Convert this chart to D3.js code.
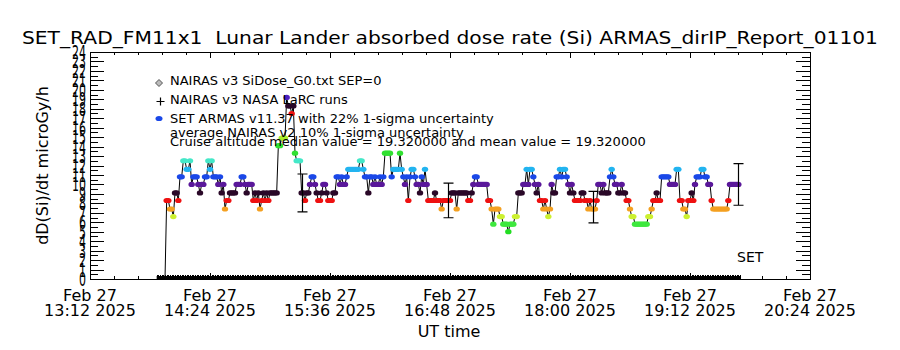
<!DOCTYPE html>
<html>
<head>
<meta charset="utf-8">
<script src="https://cdn.jsdelivr.net/npm/d3@7"></script>
<style>
body { margin: 0; background: #fff; }
text { font-family: "DejaVu Sans", sans-serif; fill: #000; white-space: pre; }
</style>
</head>
<body>
<div id="chart"></div>
<script>

// ---- data ----
var day = "2025-02-27";
var xTickLabels = ["13:12", "14:24", "15:36", "16:48", "18:00", "19:12", "20:24"];
var yTickLabels = [0, 1, 2, 3, 4, 5, 6, 7, 8, 9, 10, 11, 12, 13, 14, 15, 16, 17, 18, 19, 20, 21, 22, 23, 24];

// SET ARMAS dose rate, one sample per minute starting 13:57 UT
var armasStart = "13:57";
var armasDose = [
    0, 8.3, 8.3, 7.4, 7.4, 6.6, 9.1, 9.1, 8.3, 10.8,
    10.8, 12.5, 12.5, 11.6, 11.6, 12.5, 10.0, 10.8, 10.8, 10.8,
    10.0, 9.1, 10.0, 10.0, 10.8, 10.8, 12.5, 11.6, 12.5, 10.8,
    10.8, 10.8, 10.0, 10.8, 9.1, 10.0, 7.4, 8.3, 8.3, 9.1,
    9.1, 9.1, 9.1, 10.0, 10.0, 10.0, 10.8, 10.8, 10.0, 9.1,
    10.0, 10.0, 10.0, 8.3, 9.1, 8.3, 9.1, 7.4, 8.3, 9.1,
    8.3, 9.1, 8.3, 9.1, 9.1, 9.1, 9.1, 9.1, 14.1, 14.1,
    14.9, 14.9, 14.9, 19.2, 18.3, 18.3, 17.5, 18.3, 13.3, 12.5,
    12.5, 12.5, 9.1, 9.1, 8.3, 9.1, 9.1, 10.0, 10.8, 10.8,
    10.0, 9.1, 8.3, 8.3, 9.1, 10.0, 10.0, 9.1, 8.3, 8.3,
    8.3, 9.1, 9.1, 10.8, 10.8, 10.0, 10.8, 10.0, 10.0, 10.8,
    11.6, 11.6, 11.6, 11.6, 11.6, 11.6, 11.6, 12.5, 12.5, 11.6,
    10.8, 10.8, 9.1, 10.8, 10.8, 10.0, 10.8, 10.0, 10.0, 10.8,
    10.0, 10.8, 13.3, 13.3, 13.3, 13.3, 10.8, 11.6, 11.6, 11.6,
    11.6, 13.3, 11.6, 10.8, 10.0, 10.8, 8.3, 10.8, 11.6, 11.6,
    10.8, 10.0, 10.0, 9.1, 10.8, 10.0, 11.6, 10.0, 8.3, 8.3,
    8.3, 8.3, 9.1, 8.3, 8.3, 8.3, 7.4, 8.3, 8.3, 8.3,
    8.3, 8.3, 9.1, 9.1, 9.1, 7.4, 9.1, 9.1, 9.1, 9.1,
    9.1, 9.1, 8.3, 8.3, 9.1, 10.0, 10.8, 10.8, 10.0, 10.0,
    10.0, 10.0, 10.0, 10.0, 8.3, 8.3, 7.4, 5.8, 7.4, 7.4,
    7.4, 6.6, 6.6, 5.8, 5.8, 5.8, 5.0, 5.8, 5.8, 5.8,
    6.6, 6.6, 9.1, 9.1, 9.1, 10.0, 10.0, 11.6, 10.0, 11.6,
    11.6, 10.8, 10.0, 9.1, 10.0, 8.3, 8.3, 7.4, 8.3, 7.4,
    6.6, 7.4, 10.0, 9.1, 9.1, 10.8, 10.8, 11.6, 10.8, 11.6,
    11.6, 10.8, 10.0, 9.1, 10.0, 9.1, 8.3, 8.3, 8.3, 8.3,
    9.1, 9.1, 8.3, 8.3, 7.4, 8.3, 7.4, 7.4, 7.4, 8.3,
    10.0, 10.0, 9.1, 10.0, 9.1, 9.1, 9.1, 10.8, 11.6, 10.8,
    10.0, 10.0, 9.1, 9.1, 10.0, 9.1, 9.1, 8.3, 8.3, 7.4,
    6.6, 6.6, 5.8, 5.8, 5.8, 5.8, 5.8, 5.8, 5.8, 5.8,
    6.6, 6.6, 7.4, 8.3, 8.3, 9.1, 8.3, 8.3, 10.8, 10.8,
    10.8, 10.8, 10.8, 10.0, 10.0, 10.0, 10.0, 11.6, 11.6, 8.3,
    8.3, 7.4, 7.4, 6.6, 8.3, 8.3, 9.1, 8.3, 10.0, 10.8,
    10.8, 10.8, 11.6, 11.6, 10.8, 10.8, 10.0, 10.0, 8.3, 7.4,
    7.4, 7.4, 7.4, 7.4, 7.4, 7.4, 7.4, 7.4, 8.3, 10.0,
    10.0, 10.0, 10.0, 10.0, 10.0
];

// NAIRAS v3 LaRC runs: zero all along the flight
var nairasStart = "13:52";
var nairasEnd = "19:42";
var nairasValue = 0;

// 22% 1-sigma error bars
var errTimes = ["15:19", "16:47", "18:14", "19:41"];
var errValues = [9.1, 8.3, 7.6, 10.0];
var errFraction = 0.22;

var title = "SET_RAD_FM11x1  Lunar Lander absorbed dose rate (Si) ARMAS_dirIP_Report_01101";
var legendItems = [
    "NAIRAS v3 SiDose_G0.txt SEP=0",
    "NAIRAS v3 NASA LaRC runs",
    "SET ARMAS v11.37 with 22% 1-sigma uncertainty",
    "average NAIRAS v2 10% 1-sigma uncertainty",
    "Cruise altitude median value = 19.320000 and mean value = 19.320000"
];

// ---- layout ----
var width = 900, height = 350;
var plot = { left: 90, right: 810, top: 52, bottom: 279 };

function parseT(s) { return new Date(day + "T" + s + ":00Z"); }

var svg = d3.select("#chart").append("svg")
    .attr("width", width)
    .attr("height", height);

svg.append("rect").attr("width", width).attr("height", height).attr("fill", "#fff");

var x = d3.scaleUtc()
    .domain([parseT(xTickLabels[0]), parseT(xTickLabels[xTickLabels.length - 1])])
    .range([plot.left, plot.right]);

var y = d3.scaleLinear()
    .domain([yTickLabels[0], yTickLabels[yTickLabels.length - 1]])
    .range([plot.bottom, plot.top]);

// colour follows the dose level (wrapping IDL colour table)
var color = d3.scaleThreshold()
    .domain([1, 5.4, 6.2, 7.0, 7.9, 8.7, 9.5, 10.4, 11.2, 12.0, 12.9, 14.5, 15.3, 17.1, 17.9, 18.7])
    .range(["#000000", "#22dd22", "#3ee83e", "#ccf030", "#f4a020", "#ee1111", "#2a0828", "#5a189a",
            "#1a48e8", "#22b4f0", "#44e8c8", "#30e030", "#a8ec2a", "#f4a020", "#ee1111", "#2a0828", "#5020c0"]);

var t0 = parseT(armasStart).getTime();
var armas = armasDose.map(function(v, i) {
    return { t: new Date(t0 + i * 60000), v: v };
});

// ---- axes ----
var majorX = xTickLabels.map(parseT);
var minorX = [];
for (var m = 0; m <= 432; m += 14.4) minorX.push(new Date(majorX[0].getTime() + m * 60000));

var minorY = [];
for (var k = 0; k <= 48; k++) minorY.push(k / 2);

function axisG(axis, tx, ty) {
    var g = svg.append("g")
        .attr("transform", "translate(" + tx + "," + ty + ")")
        .attr("shape-rendering", "crispEdges")
        .call(axis);
    g.select(".domain").remove();
    g.selectAll("line").attr("stroke", "#000");
    return g;
}

axisG(d3.axisBottom(x).tickValues(minorX).tickSize(-3).tickFormat(""), 0, plot.bottom);
axisG(d3.axisBottom(x).tickValues(majorX).tickSize(-6).tickFormat(""), 0, plot.bottom);
axisG(d3.axisTop(x).tickValues(minorX).tickSize(-3).tickFormat(""), 0, plot.top);
axisG(d3.axisTop(x).tickValues(majorX).tickSize(-6).tickFormat(""), 0, plot.top);

axisG(d3.axisLeft(y).tickValues(minorY).tickSize(-8).tickFormat(""), plot.left, 0);
axisG(d3.axisLeft(y).tickValues(yTickLabels).tickSize(-14).tickFormat(""), plot.left, 0);
axisG(d3.axisRight(y).tickValues(minorY).tickSize(-8).tickFormat(""), plot.right, 0);
axisG(d3.axisRight(y).tickValues(yTickLabels).tickSize(-14).tickFormat(""), plot.right, 0);

svg.append("rect")
    .attr("x", plot.left + 0.5).attr("y", plot.top + 0.5)
    .attr("width", plot.right - plot.left).attr("height", plot.bottom - plot.top)
    .attr("fill", "none").attr("stroke", "#000").attr("stroke-width", 1);

// y tick labels: narrow, tall digits that overlap like the original
svg.append("g").selectAll("text")
    .data(yTickLabels)
    .enter().append("text")
    .attr("transform", function(d) { return "translate(86," + (y(d) + 7) + ") scale(0.55,1)"; })
    .attr("text-anchor", "end")
    .style("font-size", "20px")
    .text(function(d) { return d; });

// x tick labels, two lines
var xl = svg.append("g").selectAll("text")
    .data(xTickLabels)
    .enter().append("text")
    .attr("text-anchor", "middle")
    .style("font-size", "16px");
xl.append("tspan")
    .attr("x", function(d) { return x(parseT(d)); })
    .attr("y", 301)
    .text("Feb 27");
xl.append("tspan")
    .attr("x", function(d) { return x(parseT(d)); })
    .attr("y", 316)
    .text(function(d) { return d + " 2025"; });

svg.append("text")
    .attr("x", 449).attr("y", 337)
    .attr("text-anchor", "middle")
    .style("font-size", "16px")
    .text("UT time");

svg.append("text")
    .attr("transform", "translate(48," + ((plot.top + plot.bottom) / 2) + ") rotate(-90)")
    .attr("text-anchor", "middle")
    .style("font-size", "16px")
    .text("dD(Si)/dt microGy/h");

svg.append("text")
    .attr("x", 22).attr("y", 44)
    .attr("textLength", 856)
    .attr("lengthAdjust", "spacingAndGlyphs")
    .style("font-size", "18px")
    .text(title);

// ---- data ----
svg.append("clipPath").attr("id", "plotclip")
    .append("rect")
    .attr("x", plot.left).attr("y", plot.top)
    .attr("width", plot.right - plot.left).attr("height", plot.bottom - plot.top + 0.5);

var data = svg.append("g").attr("clip-path", "url(#plotclip)");

// NAIRAS zero line with + symbols every minute
var nStart = parseT(nairasStart).getTime(), nEnd = parseT(nairasEnd).getTime();
var nTimes = [];
for (var tt = nStart; tt <= nEnd; tt += 60000) nTimes.push(new Date(tt));
data.append("line")
    .attr("x1", x(nTimes[0])).attr("x2", x(nTimes[nTimes.length - 1]))
    .attr("y1", y(nairasValue) - 1.5).attr("y2", y(nairasValue) - 1.5)
    .attr("stroke", "#000").attr("stroke-width", 3);
data.append("g").selectAll("path")
    .data(nTimes)
    .enter().append("path")
    .attr("d", function(d) {
        var cx = Math.round(x(d)) + 0.5, cy = y(nairasValue);
        return "M" + cx + "," + (cy - 4) + "V" + (cy + 3);
    })
    .attr("stroke", "#000").attr("stroke-width", 1);

// ARMAS connecting line
data.append("path")
    .datum(armas)
    .attr("d", d3.line().x(function(d) { return x(d.t); }).y(function(d) { return y(d.v); }))
    .attr("fill", "none")
    .attr("stroke", "#000")
    .attr("stroke-width", 1);

// ARMAS symbols
data.append("g").selectAll("ellipse")
    .data(armas.filter(function(d) { return d.v > 0; }))
    .enter().append("ellipse")
    .attr("cx", function(d) { return x(d.t); })
    .attr("cy", function(d) { return y(d.v); })
    .attr("rx", 3.2).attr("ry", 2.6)
    .attr("fill", function(d) { return color(d.v); });

// error bars
errTimes.forEach(function(s, i) {
    var cx = Math.round(x(parseT(s))) + 0.5;
    var lo = y(errValues[i] * (1 - errFraction)), hi = y(errValues[i] * (1 + errFraction));
    data.append("path")
        .attr("d", "M" + cx + "," + lo + "V" + hi + "M" + (cx - 5) + "," + lo + "H" + (cx + 5) + "M" + (cx - 5) + "," + hi + "H" + (cx + 5))
        .attr("stroke", "#000").attr("fill", "none").attr("stroke-width", 1.2);
});

svg.append("text")
    .attr("x", 737).attr("y", 262)
    .style("font-size", "14px")
    .text("SET");

// ---- legend ----
var legY = [85, 104, 123, 137, 146];
svg.append("g").selectAll("text")
    .data(legendItems)
    .enter().append("text")
    .attr("x", 170)
    .attr("y", function(d, i) { return legY[i]; })
    .style("font-size", "13px")
    .text(function(d) { return d; });

svg.append("path")
    .attr("d", "M159,79.5L162.5,83L159,86.5L155.5,83Z")
    .attr("fill", "#bbb").attr("stroke", "#555").attr("stroke-width", 1);
svg.append("path")
    .attr("d", "M160.5,97.5V105.5M156.5,101.5H164.5")
    .attr("stroke", "#000").attr("stroke-width", 1.2);
svg.append("ellipse")
    .attr("cx", 159).attr("cy", 118.5).attr("rx", 3.5).attr("ry", 2.6)
    .attr("fill", "#1a48e8");

</script>
</body>
</html>
